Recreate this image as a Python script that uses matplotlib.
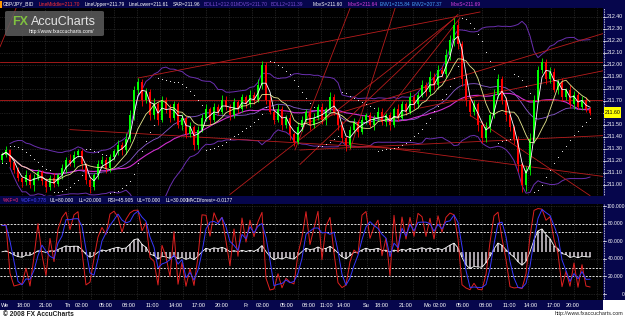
import numpy as np
import pandas as pd
import matplotlib
matplotlib.use("Agg")
import matplotlib.pyplot as plt
from matplotlib.patches import Rectangle, FancyBboxPatch

plt.rcParams["font.family"] = ["Liberation Sans", "DejaVu Sans"]

W, H = 625, 318
NAVY = "#06064c"
GRID = "#3c3c3c"

# ---------------------------------------------------------------------------
# Data (GBP/JPY bid, 30 min candles)
# ---------------------------------------------------------------------------
first_open = 211.21
closes = [
    211.25, 211.29, 211.19, 211.12, 211.06, 211.02, 211.08, 211.00, 211.06, 211.11,
    211.03, 210.98, 211.06, 211.01, 211.08, 211.14, 211.21, 211.18, 211.25, 211.28,
    211.17, 211.04, 210.98, 211.08, 211.17, 211.21, 211.14, 211.23, 211.28, 211.33,
    211.29, 211.38, 211.58, 211.79, 211.86, 211.71, 211.77, 211.58, 211.67, 211.54,
    211.71, 211.63, 211.56, 211.67, 211.50, 211.56, 211.42, 211.48, 211.33, 211.46,
    211.56, 211.63, 211.54, 211.65, 211.61, 211.71, 211.65, 211.58, 211.69, 211.63,
    211.73, 211.67, 211.75, 211.71, 211.83, 212.00, 211.71, 211.61, 211.54, 211.63,
    211.50, 211.56, 211.42, 211.36, 211.48, 211.54, 211.61, 211.50, 211.56, 211.65,
    211.54, 211.63, 211.73, 211.61, 211.50, 211.39, 211.33, 211.46, 211.52, 211.44,
    211.54, 211.58, 211.50, 211.56, 211.61, 211.52, 211.58, 211.50, 211.63, 211.56,
    211.67, 211.61, 211.73, 211.67, 211.75, 211.83, 211.77, 211.90, 211.83, 211.96,
    211.92, 212.08, 212.21, 212.33, 212.17, 211.88, 211.71, 211.61, 211.67, 211.50,
    211.39, 211.48, 211.58, 211.75, 211.88, 211.71, 211.58, 211.48, 211.38, 211.17,
    211.00, 211.12, 211.38, 211.71, 211.96, 212.02, 211.88, 211.94, 211.79, 211.86,
    211.73, 211.79, 211.67, 211.75, 211.65, 211.71, 211.63, 211.60,
]
# wick lengths in pips above / below the body
wick_up = [
    2, 3, 1, 2, 3, 1, 4, 2, 3, 2, 1, 3, 2, 4, 2, 3, 2, 5, 3, 2,
    2, 1, 3, 2, 4, 3, 2, 3, 2, 4, 3, 5, 4, 3, 3, 2, 4, 3, 5, 2,
    3, 2, 4, 3, 2, 3, 1, 4, 2, 3, 3, 4, 2, 3, 2, 4, 3, 2, 3, 2,
    3, 2, 4, 2, 5, 3, 2, 3, 2, 4, 3, 2, 3, 2, 4, 3, 2, 3, 4, 2,
    3, 2, 4, 3, 2, 3, 2, 3, 4, 2, 3, 2, 3, 2, 4, 3, 2, 3, 2, 4,
    3, 2, 4, 3, 2, 4, 3, 5, 3, 4, 3, 5, 4, 6, 4, 3, 5, 3, 4, 2,
    3, 4, 3, 5, 4, 3, 2, 3, 2, 3, 2, 4, 5, 4, 3, 4, 3, 4, 3, 2,
    3, 2, 4, 3, 2, 3, 2, 2,
]
wick_dn = [
    3, 2, 4, 2, 3, 4, 2, 3, 5, 2, 3, 4, 2, 3, 2, 3, 4, 2, 3, 2,
    4, 3, 5, 2, 3, 2, 4, 3, 2, 3, 4, 3, 2, 4, 3, 5, 3, 4, 3, 4,
    2, 3, 4, 2, 3, 4, 3, 2, 4, 3, 2, 3, 4, 2, 3, 2, 3, 4, 2, 3,
    2, 3, 2, 4, 2, 3, 4, 2, 3, 2, 4, 3, 5, 4, 2, 3, 2, 4, 3, 2,
    3, 4, 2, 3, 4, 3, 5, 2, 3, 4, 2, 3, 2, 4, 3, 2, 3, 4, 2, 3,
    2, 3, 2, 4, 3, 2, 3, 2, 4, 3, 2, 3, 4, 5, 4, 6, 5, 4, 3, 5,
    4, 3, 4, 2, 3, 4, 5, 3, 4, 6, 6, 5, 4, 3, 2, 3, 4, 3, 2, 3,
    3, 2, 3, 4, 2, 3, 2, 2,
]

# hand drawn trend lines: ((index, price), (index, price))
trend_lines = [
    ((-0.5, 212.02), (150.25, 212.02)),
    ((-0.5, 211.71), (150.25, 211.71)),
    ((-0.5, 212.15), (3.5, 212.47)),
    ((34.0, 211.89), (119.5, 212.44)),
    ((74.5, 211.50), (150.25, 212.26)),
    ((104.5, 211.64), (150.25, 211.95)),
    ((74.5, 211.29), (150.25, 211.41)),
    ((82.0, 211.37), (150.25, 211.07)),
    ((117.0, 211.58), (147.0, 210.91)),
    ((17.0, 211.46), (104.5, 211.29)),
    ((57.0, 210.92), (113.25, 212.39)),
    ((74.5, 211.17), (114.0, 212.42)),
    ((73.25, 211.29), (87.0, 212.47)),
    ((87.0, 211.29), (98.25, 212.47)),
    ((94.5, 211.54), (114.5, 212.39)),
]

time_labels = ["We", "18:00", "21:00", "Th", "02:00", "05:00", "08:00", "11:00",
               "14:00", "17:00", "20:00", "Fr", "02:00", "05:00", "08:00", "11:00",
               "14:00", "Su", "18:00", "21:00", "Mo", "02:00", "05:00", "08:00",
               "11:00", "14:00", "17:00", "20:00"]
time_pos = [0.75, 5.5, 11.0, 16.5, 20.0, 26.0, 31.75, 37.5, 43.5, 49.25, 55.0,
            61.0, 65.25, 71.25, 76.75, 81.0, 85.5, 91.0, 95.0, 101.0, 106.25,
            109.5, 115.25, 121.0, 126.75, 132.25, 138.0, 142.75]

header_top = [
    ("GBP/JPY_BID", "white", 3), ("LineMiddle=211.70", "#ff3030", 39),
    ("LineUpper=211.79", "white", 85), ("LineLower=211.61", "white", 129),
    ("SAR=211.96", "white", 173), ("BOLL1=212.01", "#7a4cd0", 204),
    ("MOVS=211.70", "#7a4cd0", 236), ("BOLL2=211.39", "#7a4cd0", 271),
    ("MovS=211.60", "white", 313), ("MovS=211.64", "#e040e0", 348),
    ("ENV1=215.84", "#4aa8ff", 380), ("ENV2=207.37", "#4aa8ff", 412),
    ("MovS=211.69", "#e040e0", 451),
]
header_low = [
    ("%KF=0", "#ff3070", 3), ("%DF=0.778", "#4848ff", 21),
    ("UL=80.000", "white", 50), ("LL=20.000", "white", 79),
    ("RSI=45.905", "white", 108), ("UL=70.000", "white", 137),
    ("LL=30.000", "white", 166), ("MACDforest=-0.0177", "white", 187),
]

# ---------------------------------------------------------------------------
# Indicators
# ---------------------------------------------------------------------------
c = np.array(closes)
o = np.r_[first_open, c[:-1]]
hi = np.maximum(o, c) + np.array(wick_up) * 0.01
lo = np.minimum(o, c) - np.array(wick_dn) * 0.01
n = len(c)
x = np.arange(n)
cs = pd.Series(c)


def psar(hi, lo, af0=0.02, afmax=0.2):
    sar = np.zeros(len(hi))
    bull, af, ep = True, af0, hi[0]
    sar[0] = lo[0]
    for t in range(1, len(hi)):
        s = sar[t - 1] + af * (ep - sar[t - 1])
        if bull:
            s = min(s, lo[t - 1], lo[max(t - 2, 0)])
            if lo[t] < s:
                bull, s, ep, af = False, ep, lo[t], af0
            elif hi[t] > ep:
                ep, af = hi[t], min(af + af0, afmax)
        else:
            s = max(s, hi[t - 1], hi[max(t - 2, 0)])
            if hi[t] > s:
                bull, s, ep, af = True, ep, hi[t], af0
            elif lo[t] < ep:
                ep, af = lo[t], min(af + af0, afmax)
        sar[t] = s
    return sar


mid = cs.rolling(20, min_periods=3).mean()
sd = cs.rolling(20, min_periods=3).std()
ma_fast = cs.rolling(3, min_periods=1).mean()
ma_med = cs.rolling(8, min_periods=1).mean()
ma_slow = cs.rolling(30, min_periods=1).mean()
sar = psar(hi, lo)

hs, ls = pd.Series(hi), pd.Series(lo)
hh = hs.rolling(6, min_periods=1).max()
ll = ls.rolling(6, min_periods=1).min()
stoch_k = 100 * (cs - ll) / (hh - ll)
stoch_d = stoch_k.rolling(3, min_periods=1).mean()

ema = lambda s, span: s.ewm(span=span, adjust=False).mean()
macd = ema(cs, 6) - ema(cs, 13)
hist = macd - ema(macd, 5)
scale = 26 / np.abs(hist).max()
base = 48

# ---------------------------------------------------------------------------
# Figure layout (pixel boxes)
# ---------------------------------------------------------------------------
fig = plt.figure(figsize=(W / 100, H / 100), dpi=100, facecolor="black")


def box(x0, y0, x1, y1):
    return [x0 / W, 1 - y1 / H, (x1 - x0) / W, (y1 - y0) / H]


def rect(x0, y0, x1, y1, color, z=0):
    fig.add_artist(Rectangle((x0 / W, 1 - y1 / H), (x1 - x0) / W, (y1 - y0) / H,
                             transform=fig.transFigure, facecolor=color,
                             edgecolor="none", zorder=z))


def ftext(px, py, s, **kw):
    fig.text(px / W, 1 - py / H, s, **kw)


def bare(ax, color):
    ax.set_facecolor(color)
    ax.set_xticks([])
    ax.set_yticks([])
    for sp in ax.spines.values():
        sp.set_visible(False)


XLIM = (-0.5, 150.25)
PLIM = (212.54 - 196 / 120, 212.54 - 8 / 120)
OLIM = (-6.8, 102.3)
grid_x = np.arange(5.0, 151, 5.75)
price_levels = np.round(np.arange(211.0, 212.41, 0.1), 2)

rect(0, 0, W, 8, NAVY)
rect(0, 196, 603, 204, NAVY)
rect(0, 300, 603, 310, NAVY)
rect(0, 310, W, H, "white")
rect(603, 300, W, 310, "white")

# main price panel
ax = fig.add_axes(box(0, 8, 603, 196))
bare(ax, "black")
ax.set_xlim(XLIM)
ax.set_ylim(PLIM)
for gx in grid_x:
    ax.axvline(gx, color=GRID, lw=0.5, ls=(0, (1, 1.5)), zorder=0)
for lv in price_levels:
    ax.axhline(lv, color=GRID, lw=0.5, ls=(0, (1, 1.5)), zorder=0)

ax.plot(x, mid + 2 * sd, color="#6a2fb0", lw=0.7, zorder=2)
ax.plot(x, mid - 2 * sd, color="#6a2fb0", lw=0.7, zorder=2)
ax.plot(x, mid, color="#8a5ad0", lw=0.6, zorder=2)
ax.plot(x, ma_slow, color="#d030d0", lw=0.8, zorder=2)

for (i0, p0), (i1, p1) in trend_lines:
    ax.plot([i0, i1], [p0, p1], color="#b81c1c", lw=0.6, zorder=2)

cols = np.where(c >= o, "#00ff00", "#ff0000")
ax.vlines(x, lo, hi, colors=cols, lw=0.6, zorder=3)
body = np.where(np.abs(c - o) < 0.004, 0.004, c - o)
ax.bar(x, body, bottom=o, width=0.6, color=cols, lw=0, zorder=3)

ax.plot(x, ma_med, color="#e8e890", lw=0.6, zorder=4)
ax.plot(x, ma_fast, color="white", lw=0.6, zorder=4)
ax.scatter(x, sar, s=0.6, color="white", lw=0, zorder=4)

# right price scale
axr = fig.add_axes(box(603, 8, W, 196))
bare(axr, NAVY)
axr.set_xlim(0, 1)
axr.set_ylim(PLIM)
axr.axvline(0.03, color="white", lw=0.6, ls=(0, (1, 1)))
for lv in price_levels:
    axr.plot([0.0, 0.12], [lv, lv], color="white", lw=0.5)
    if abs(lv - c[-1]) > 0.05:
        axr.text(0.55, lv, f"{lv:.2f}", color="white", fontsize=3.8,
                 ha="center", va="center")
axr.add_patch(Rectangle((0.05, c[-1] - 0.045), 0.75, 0.09, facecolor="#ffff00",
                        edgecolor="none", zorder=3))
axr.text(0.43, c[-1], f"{c[-1]:.2f}", color="black", fontsize=3.8,
         ha="center", va="center", zorder=4)

# oscillator panel
ax2 = fig.add_axes(box(0, 204, 603, 300))
bare(ax2, "black")
ax2.set_xlim(XLIM)
ax2.set_ylim(OLIM)
for gx in grid_x:
    ax2.axvline(gx, color=GRID, lw=0.5, ls=(0, (1, 1.5)), zorder=0)
for lv in (0, 20, 40, 60, 80, 100):
    ax2.axhline(lv, color=GRID, lw=0.5, ls=(0, (1, 1.5)), zorder=0)
for lv in (20, 30, 70, 80):
    ax2.axhline(lv, color="#e0e0e0", lw=0.7, ls=(0, (2, 1.5)), zorder=1)
ax2.vlines(x, base, base + hist * scale, colors="#c8c0c8", lw=1.2, zorder=2)
ax2.plot(x, base + hist * scale, color="white", lw=0.6, zorder=3)
ax2.plot(x, stoch_k, color="#e02020", lw=0.7, zorder=4)
ax2.plot(x, stoch_d, color="#3838ff", lw=0.7, zorder=4)

axr2 = fig.add_axes(box(603, 204, W, 300))
bare(axr2, NAVY)
axr2.set_xlim(0, 1)
axr2.set_ylim(OLIM)
axr2.axvline(0.03, color="white", lw=0.6, ls=(0, (1, 1)))
for lv in (0, 20, 40, 60, 80, 100):
    axr2.plot([0.0, 0.12], [lv, lv], color="white", lw=0.5)
    axr2.text(0.97 if lv == 0 else 0.57, lv, "0" if lv == 0 else f"{lv:.3f}",
              color="white", fontsize=3.6, ha="right" if lv == 0 else "center",
              va="center")
rect(603, 196, W, 204, NAVY)

# time axis
axt = fig.add_axes(box(0, 300, 603, 310))
bare(axt, NAVY)
axt.set_xlim(XLIM)
axt.set_ylim(0, 1)
for lab, pos in zip(time_labels, time_pos):
    axt.text(pos, 0.45, lab, color="white", fontsize=4.0, ha="center", va="center")

# header texts
for s, col, px in header_top:
    ftext(px, 4.2, s, color=col, fontsize=3.5, va="center", zorder=6)
rect(0, 1, 2, 8, "#ff9900", z=6)
for s, col, px in header_low:
    ftext(px, 200.5, s, color=col, fontsize=3.5, va="center", zorder=6)

# watermark
fig.add_artist(FancyBboxPatch((5 / W, 1 - 36 / H), 99 / W, 25 / H,
                              boxstyle="round,pad=0,rounding_size=0.004",
                              transform=fig.transFigure, facecolor="#5c5c5c",
                              edgecolor="none", alpha=0.85, zorder=7))
ftext(12, 22, "FX", color="#7fc040", fontsize=9, fontweight="bold",
      va="center", zorder=8)
ftext(31, 22, "AccuCharts", color="#e4e4e4", fontsize=9, va="center", zorder=8)
ftext(29, 31.5, "http://www.fxaccucharts.com/", color="white", fontsize=3.6,
      va="center", zorder=8)

ftext(3, 314, "\u00a9 2008 FX AccuCharts", color="#202020", fontsize=4.8,
      fontweight="bold", va="center", zorder=8)
ftext(623, 314, "http://www.fxaccucharts.com", color="#202020", fontsize=3.9,
      ha="right", va="center", zorder=8)

fig.savefig("out.png", dpi=100, facecolor="black")
